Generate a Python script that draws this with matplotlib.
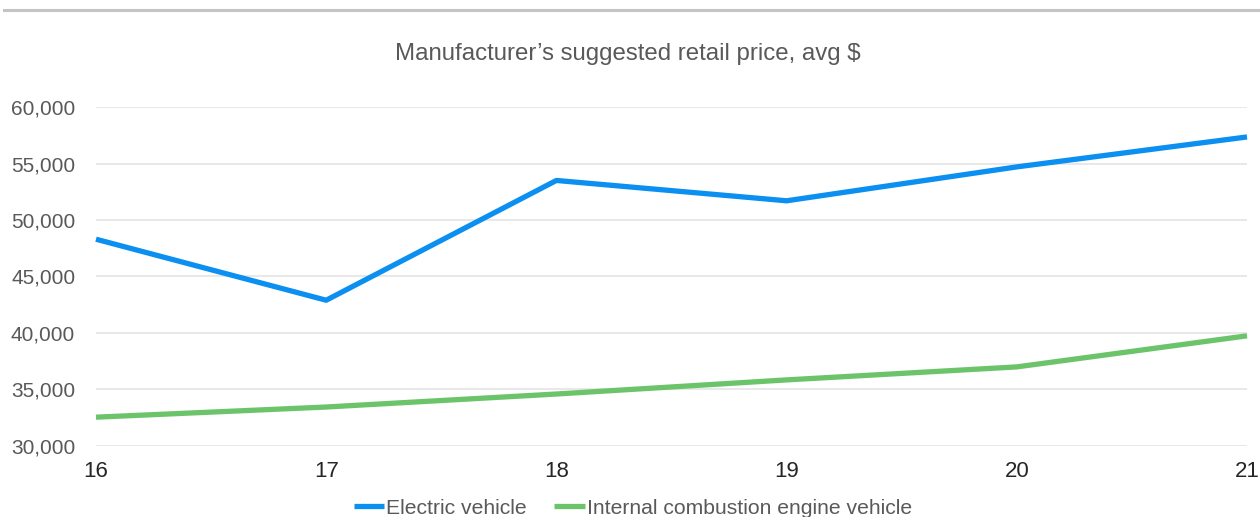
import matplotlib
matplotlib.use('Agg')
import matplotlib.pyplot as plt
from matplotlib.lines import Line2D
from matplotlib.ticker import FuncFormatter

plt.rcParams['font.family'] = ['Liberation Sans', 'DejaVu Sans']

years = [16, 17, 18, 19, 20, 21]
electric = [48300, 42900, 53500, 51700, 54700, 57350]
ice = [32550, 33450, 34600, 35850, 37000, 39750]
yticks = [30000, 35000, 40000, 45000, 50000, 55000, 60000]

fig = plt.figure(figsize=(12.6, 5.17), dpi=100)
ax = fig.add_axes([96 / 1260, 1 - 446 / 517, (1247 - 96) / 1260, (446 - 107) / 517])

ax.plot(years, electric, color='#0B8FF0', lw=3.8, solid_joinstyle='round',
        solid_capstyle='butt', label='Electric vehicle', clip_on=False, zorder=3)
ax.plot(years, ice, color='#6CC46A', lw=3.8, solid_joinstyle='round',
        solid_capstyle='butt', label='Internal combustion engine vehicle', clip_on=False, zorder=3)

ax.set_xlim(16, 21)
ax.set_ylim(30000, 60000)
ax.set_xticks(years)
ax.set_yticks(yticks)
ax.yaxis.set_major_formatter(FuncFormatter(lambda v, p: f'{int(v):,}'))
ax.grid(axis='y', color='#e4e4e4', lw=1.2)
ax.set_axisbelow(True)
for s in ax.spines.values():
    s.set_visible(False)
ax.tick_params(axis='both', length=0, labelsize=15)
ax.tick_params(axis='y', pad=15, labelcolor='#595959')
ax.tick_params(axis='x', pad=11, labelcolor='#262626', labelsize=16)

fig.text(628 / 1260, 1 - 54 / 517, 'Manufacturer’s suggested retail price, avg $',
         ha='center', va='center', fontsize=17.3, color='#595959')

# grey rule at the top
fig.add_artist(Line2D([4 / 1260, 1.0], [1 - 10 / 517, 1 - 10 / 517],
                      color='#c4c4c4', lw=2.2, transform=fig.transFigure))

leg = fig.legend(loc='center', bbox_to_anchor=(633 / 1260, 1 - 508 / 517), ncol=2,
                 frameon=False, fontsize=15.2, handlelength=1.45, handletextpad=0.1,
                 columnspacing=1.3, borderpad=0, borderaxespad=0)
for t in leg.get_texts():
    t.set_color('#595959')

fig.savefig('out.png', dpi=100)
